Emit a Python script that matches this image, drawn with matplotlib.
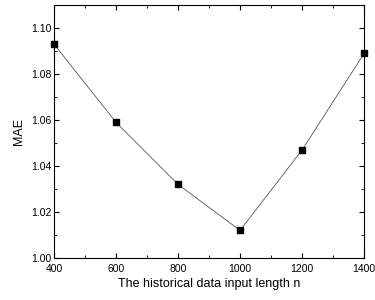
import numpy as np
import matplotlib
matplotlib.use('Agg')
import matplotlib.pyplot as plt
from matplotlib.ticker import MultipleLocator

plt.rcParams['font.family'] = ['Liberation Sans', 'DejaVu Sans']

# -- data -- #
lengths = [400, 600, 800, 1000, 1200, 1400]
mae = [1.093, 1.059, 1.032, 1.012, 1.047, 1.089]

fig = plt.figure(figsize=(3.75, 3.0), dpi=100)
ax = fig.add_axes([0.144, 0.14, 0.827, 0.843])

ax.plot(lengths, mae, color='#555555', lw=0.6, marker='s', ms=4,
        mfc='black', mec='black', clip_on=False, zorder=3)

ax.set_xlim(400, 1400)
ax.set_ylim(1.00, 1.11)
ax.xaxis.set_major_locator(MultipleLocator(200))
ax.xaxis.set_minor_locator(MultipleLocator(100))
ax.yaxis.set_major_locator(MultipleLocator(0.02))
ax.yaxis.set_minor_locator(MultipleLocator(0.01))
ax.yaxis.set_major_formatter(plt.FormatStrFormatter('%.2f'))

ax.tick_params(which='both', direction='in', top=True, right=True, labelsize=7.5)
ax.tick_params(axis='x', pad=4)
ax.tick_params(axis='y', pad=2)
ax.tick_params(which='major', length=3.5, width=0.8)
ax.tick_params(which='minor', length=2, width=0.6)
for s in ax.spines.values():
    s.set_linewidth(0.8)

ax.set_xlabel('The historical data input length n', fontsize=9, labelpad=3)
ax.set_ylabel('MAE', fontsize=9, labelpad=4)

fig.savefig('out.png', dpi=100)
